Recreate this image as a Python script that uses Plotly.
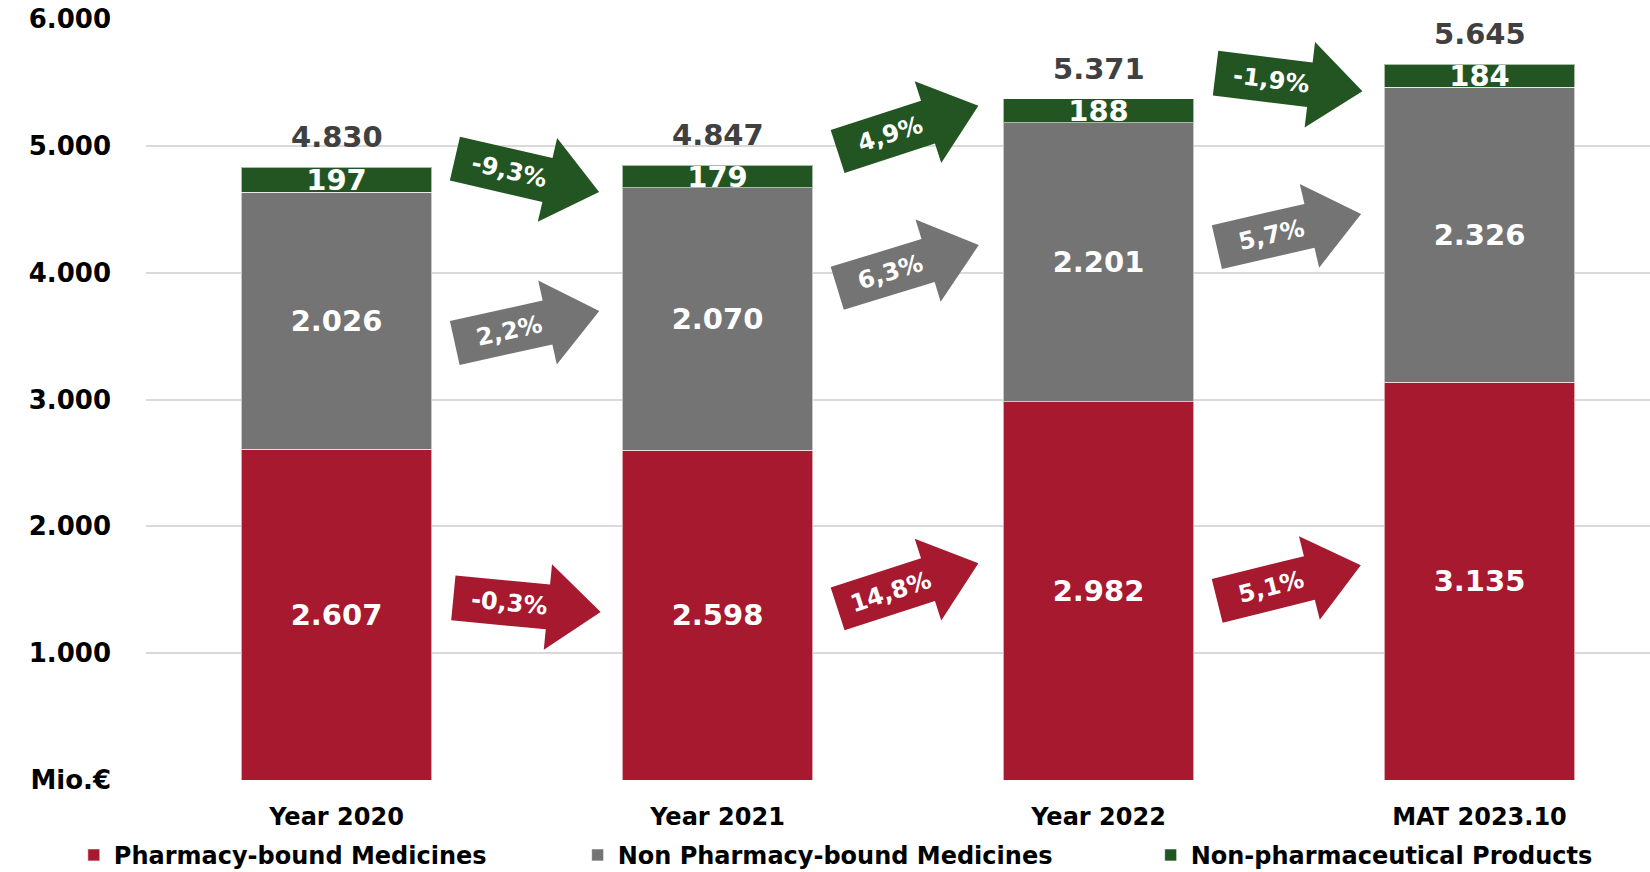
import math
import plotly.graph_objects as go

# ---------------- data ----------------
categories = ["Year 2020", "Year 2021", "Year 2022", "MAT 2023.10"]
pharmacy_bound = [2607, 2598, 2982, 3135]
non_pharmacy_bound = [2026, 2070, 2201, 2326]
non_pharmaceutical = [197, 179, 188, 184]
series_names = ["Pharmacy-bound Medicines", "Non Pharmacy-bound Medicines",
                "Non-pharmaceutical Products"]
growth_pharmacy = ["-0,3%", "14,8%", "5,1%"]
growth_non_pharmacy = ["2,2%", "6,3%", "5,7%"]
growth_non_pharmaceutical = ["-9,3%", "4,9%", "-1,9%"]
y_tick_values = [0, 1000, 2000, 3000, 4000, 5000, 6000]
y_tick_labels = ["Mio.€", "1.000", "2.000", "3.000", "4.000", "5.000", "6.000"]

# ---------------- styles ----------------
RED, GRAY, GREEN = "#A6192E", "#737473", "#235523"
FONT = "DejaVu Sans"
arrow_angles = {  # clockwise degrees
    "red": [5.5, -18, -14],
    "gray": [-12.5, -17, -13],
    "green": [13, -18, 7],
}
arrow_nudge = {  # pixels upward
    "red": [10, 17, 3],
    "gray": [-7, 24, 18],
    "green": [3, 15, 11],
}

x_pos = list(range(len(categories)))
series = [pharmacy_bound, non_pharmacy_bound, non_pharmaceutical]
colors = [RED, GRAY, GREEN]
legend_ids = ["legend", "legend2", "legend3"]

fig = go.Figure()
for vals, name, col, lid in zip(series, series_names, colors, legend_ids):
    fig.add_trace(go.Bar(
        x=x_pos, y=vals, name=name,
        marker=dict(color=col, line=dict(color="rgba(255,255,255,0.6)", width=1)),
        width=0.5, texttemplate="%{y:,.0f}", textposition="inside",
        insidetextanchor="middle", textangle=0, constraintext="none",
        textfont=dict(family=FONT, size=29, color="white", weight="bold"),
        legend=lid, hoverinfo="skip",
    ))

# totals
totals = [a + b + c for a, b, c in zip(*series)]
for i, t in enumerate(totals):
    fig.add_annotation(x=x_pos[i], y=t, text=f"{t:,}".replace(",", "."),
                       showarrow=False, yanchor="middle", yshift=30,
                       font=dict(family=FONT, size=29, color="#404040", weight="bold"))

# arrows between bars
def midpoints(idx):
    base = [sum(s[i] for s in series[:idx]) for i in range(len(categories))]
    return [b + v / 2 for b, v in zip(base, series[idx])]

L, LB, BH, HH = 148, 95, 22.5, 43
local = [(-L / 2, BH), (-L / 2 + LB, BH), (-L / 2 + LB, HH), (L / 2, 0),
         (-L / 2 + LB, -HH), (-L / 2 + LB, -BH), (-L / 2, -BH)]

groups = [("red", growth_pharmacy, RED, 0),
          ("gray", growth_non_pharmacy, GRAY, 1),
          ("green", growth_non_pharmaceutical, GREEN, 2)]
for key, labels, col, idx in groups:
    mids = midpoints(idx)
    for j, lab in enumerate(labels):
        th = math.radians(arrow_angles[key][j])
        nud = arrow_nudge[key][j]
        c, s = math.cos(th), math.sin(th)
        pts = [(x * c + y * s, -x * s + y * c + nud) for x, y in local]
        path = "M " + " L ".join(f"{px:.2f},{py:.2f}" for px, py in pts) + " Z"
        ax = (x_pos[j] + x_pos[j + 1]) / 2
        ay = (mids[j] + mids[j + 1]) / 2
        fig.add_shape(type="path", xref="x", yref="y", xsizemode="pixel", ysizemode="pixel",
                      xanchor=ax, yanchor=ay, path=path, fillcolor=col,
                      line=dict(width=0), layer="above")
        d = 18
        fig.add_annotation(x=ax, y=ay, text=lab, showarrow=False, textangle=arrow_angles[key][j],
                           xshift=-d * c, yshift=nud + d * s,
                           font=dict(family=FONT, size=24, color="white", weight="bold"))

legend_common = dict(orientation="h", yanchor="middle", y=-0.099, xanchor="left",
                     bgcolor="rgba(0,0,0,0)",
                     font=dict(family=FONT, size=24, color="black", weight="bold"))

fig.update_layout(
    width=1650, height=872, autosize=False,
    margin=dict(l=146, r=0, t=19, b=92, autoexpand=False),
    plot_bgcolor="white", paper_bgcolor="white",
    barmode="stack", separators=",.",
    showlegend=True,
    legend=dict(x=-0.048, **legend_common),
    legend2=dict(x=0.287, **legend_common),
    legend3=dict(x=0.668, **legend_common),
    xaxis=dict(range=[-0.5, 3.4475], tickvals=x_pos, ticktext=categories,
               showgrid=False, zeroline=False, showline=False, ticks="",
               ticklabelstandoff=20, automargin=False,
               tickfont=dict(family=FONT, size=24, color="black", weight="bold")),
    yaxis=dict(range=[0, 6000], tickvals=y_tick_values, ticktext=y_tick_labels,
               showgrid=True, gridcolor="#D9D9D9", gridwidth=1.5, zeroline=False,
               showline=False, ticks="", ticklabelstandoff=34, automargin=False,
               tickfont=dict(family=FONT, size=26, color="black", weight="bold")),
)

fig.write_html("out.html", config={"displayModeBar": False},
               post_script="document.body.style.margin='0px';")
